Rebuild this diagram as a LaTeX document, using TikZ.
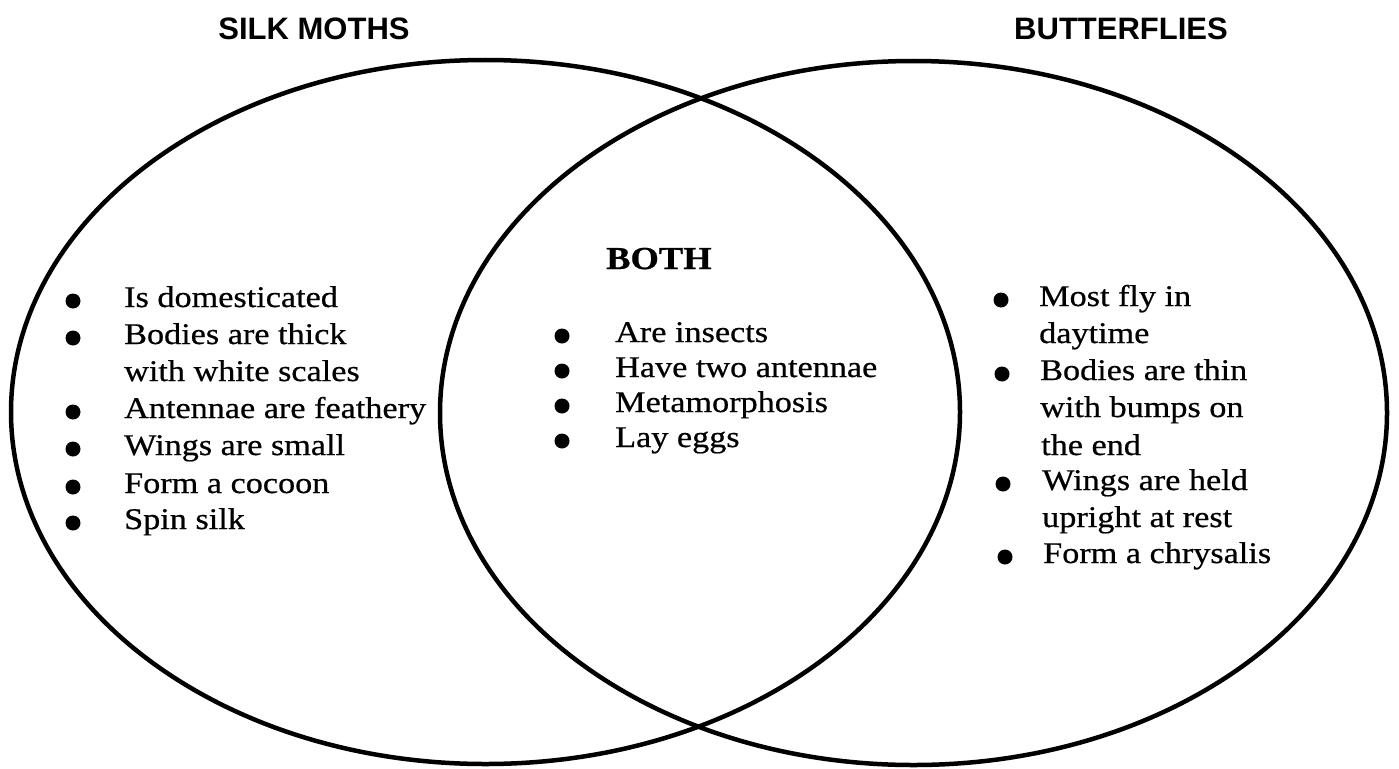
\documentclass[tikz,border=0pt]{standalone}
\usepackage{fontspec}
\setmainfont{Liberation Serif}[FakeStretch=1.14,FakeBold=0.6]
\newfontfamily\headfont{Liberation Sans}
\begin{document}
\begin{tikzpicture}[x=1pt,y=-1pt,
  ring/.style={line width=4.5pt},
  head/.style={font=\headfont\bfseries\fontsize{31}{31}\selectfont, inner sep=0, anchor=base},
  both/.style={font=\bfseries\fontsize{32}{32}\selectfont, inner sep=0, anchor=base west},
  itm/.style={font=\fontsize{30}{30}\selectfont, inner sep=0, anchor=base west},
  blt/.style={circle, fill=black, inner sep=0, minimum size=15pt}]
\useasboundingbox (0,0) rectangle (1399,768);
% circles
\draw[ring] (485.5,412) ellipse [x radius=474.5pt, y radius=352pt];
\draw[ring] (913.5,413) ellipse [x radius=473.5pt, y radius=352pt];
% headings
\node[head] (hl) at (314,40) {SILK MOTHS};
\node[head] (hr) at (1121,40) {BUTTERFLIES};
% left list
\node[blt] (lb1) at (73,301) {}; \node[itm] (l1) at (124,307) {Is domesticated};
\node[blt] (lb2) at (73,338) {}; \node[itm] (l2) at (124,344) {Bodies are thick};
\node[itm] (l2b) at (124,381) {with white scales};
\node[blt] (lb3) at (73,412) {}; \node[itm] (l3) at (124,418) {Antennae are feathery};
\node[blt] (lb4) at (73,449) {}; \node[itm] (l4) at (124,455) {Wings are small};
\node[blt] (lb5) at (73,487) {}; \node[itm] (l5) at (124,493) {Form a cocoon};
\node[blt] (lb6) at (73,523) {}; \node[itm] (l6) at (124,529) {Spin silk};
% center list
\node[both] (cb) at (606,269) {BOTH};
\node[blt] (cb1) at (562,336) {}; \node[itm] (c1) at (615,342) {Are insects};
\node[blt] (cb2) at (562,371) {}; \node[itm] (c2) at (615,377) {Have two antennae};
\node[blt] (cb3) at (562,406) {}; \node[itm] (c3) at (615,412) {Metamorphosis};
\node[blt] (cb4) at (562,441) {}; \node[itm] (c4) at (615,447) {Lay eggs};
% right list
\node[blt] (rb1) at (1001,300) {}; \node[itm] (r1) at (1039,306) {Most fly in};
\node[itm] (r1b) at (1039,343) {daytime};
\node[blt] (rb2) at (1002,374) {}; \node[itm] (r2) at (1040,380) {Bodies are thin};
\node[itm] (r2b) at (1040,417) {with bumps on};
\node[itm] (r2c) at (1041,455) {the end};
\node[blt] (rb3) at (1003,484) {}; \node[itm] (r3) at (1042,490) {Wings are held};
\node[itm] (r3b) at (1042,527) {upright at rest};
\node[blt] (rb4) at (1005,557) {}; \node[itm] (r4) at (1043,563) {Form a chrysalis};
\end{tikzpicture}
\end{document}
